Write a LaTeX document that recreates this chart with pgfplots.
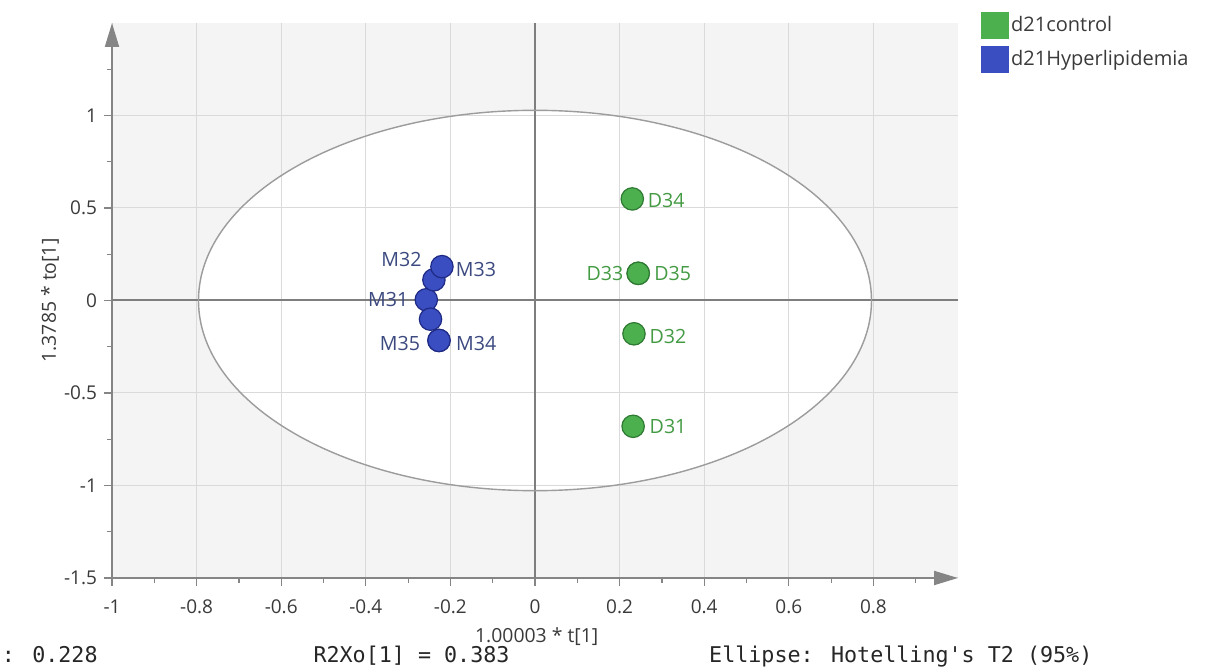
\documentclass[border=0pt]{standalone}
\usepackage{pgfplots}
\pgfplotsset{compat=1.18}
\usepackage{pgfplotstable}
\usepackage{fontspec}
\setmainfont{Open Sans}
\newfontfamily\monofont{DejaVu Sans Mono}
\usetikzlibrary{arrows.meta}

\definecolor{bggray}{HTML}{F4F4F4}
\definecolor{gridgray}{HTML}{DADADA}
\definecolor{axgray}{HTML}{858585}
\definecolor{zerogray}{HTML}{7E7E7E}
\definecolor{ellgray}{HTML}{9C9C9C}
\definecolor{gfill}{HTML}{4CB04F}
\definecolor{gedge}{HTML}{2E7A32}
\definecolor{bfill}{HTML}{3A4EC2}
\definecolor{bedge}{HTML}{1E2A84}
\definecolor{glabel}{HTML}{449B44}
\definecolor{blabel}{HTML}{3C4A80}
\definecolor{txt}{HTML}{3A3A3A}

% d21control: labels to the right of the point
\pgfplotstableread{
x y label dx dy
0.230 0.549 D34 7.5 -1.0
0.244 0.147 D35 7.8 0.0
0.234 -0.180 D32 7.5 -1.2
0.232 -0.680 D31 8.0 -0.3
}\controlR
% d21control: labels to the left of the point
\pgfplotstableread{
x y label dx dy
0.244 0.147 D33 -7.2 0.0
}\controlL

% d21Hyperlipidemia
\pgfplotstableread{
x y label dx dy
-0.257 0.004 M31 -8.7 0.0
-0.239 0.112 M32 -5.9 10.0
-0.227 -0.216 M35 -9.2 -1.7
}\hyperL
\pgfplotstableread{
x y
-0.247 -0.101
}\hyperN
\pgfplotstableread{
x y label dx dy
-0.220 0.183 M33 6.7 -1.5
-0.227 -0.216 M34 8.3 -1.7
}\hyperR

\pgfplotsset{
  pts/.style n args={2}{only marks, mark=*, mark size=5.6pt, forget plot,
    mark options={fill=#1, draw=#2, line width=0.6pt}},
  lbl/.style n args={2}{
    nodes near coords, point meta=explicit symbolic,
    visualization depends on={\thisrow{dx} \as \mydx},
    visualization depends on={\thisrow{dy} \as \mydy},
    every node near coord/.append style={anchor=#1, xshift=\mydx pt, yshift=\mydy pt, inner sep=0pt, font=\fontsize{9.8}{11}\selectfont, text=#2}},
}

\begin{document}
\begin{tikzpicture}
\begin{axis}[
  set layers,
  at={(0pt,0pt)}, anchor=south west,
  scale only axis, width=423pt, height=277.5pt,
  xmin=-1, xmax=1, ymin=-1.5, ymax=1.5,
  axis lines*=left,
  axis line style={axgray, line width=1pt},
  x axis line style={-{Triangle[length=12pt,width=7pt]}},
  y axis line style={-{Triangle[length=12pt,width=7pt]}},
  xtick={-1,-0.8,-0.6,-0.4,-0.2,0,0.2,0.4,0.6,0.8},
  minor xtick={-0.9,-0.7,-0.5,-0.3,-0.1,0.1,0.3,0.5,0.7,0.9},
  ytick={-1.5,-1,-0.5,0,0.5,1},
  minor ytick={-1.25,-0.75,-0.25,0.25,0.75,1.25},
  tick align=outside,
  major tick length=4pt, minor tick length=2.5pt,
  tick style={axgray, line width=0.6pt},
  grid=major,
  major grid style={gridgray, line width=0.5pt},
  /pgf/number format/assume math mode=true,
  ticklabel style={font=\fontsize{9.5}{11}\selectfont, text=txt},
  xticklabel style={yshift=-3.5pt},
  xlabel={1.00003 * t[1]},
  ylabel={1.3785 * to[1]},
  xlabel style={at={(axis description cs:0.502,-0.1063)}, anchor=center, font=\fontsize{9.7}{11}\selectfont, text=txt},
  ylabel style={at={(axis description cs:-0.0733,0.5)}, anchor=center, font=\fontsize{9.7}{11}\selectfont, text=txt},
  legend style={at={(axis description cs:1.0272,1.0205)}, anchor=north west, draw=none, fill=none, inner sep=0pt, row sep=3.5pt, font=\fontsize{10}{12}\selectfont, text=txt, nodes={inner sep=1pt}},
  legend cell align=left,
  clip=false,
]
\begin{pgfonlayer}{axis background}
  \fill[bggray] (rel axis cs:0,0) rectangle (rel axis cs:1,1);
  \fill[white] (axis cs:0,0) ellipse [x radius=0.7955, y radius=1.028];
\end{pgfonlayer}
\draw[zerogray, line width=1pt] (axis cs:-1,0) -- (axis cs:1,0);
\draw[zerogray, line width=1pt] (axis cs:0,-1.5) -- (axis cs:0,1.5);
\draw[ellgray, line width=0.7pt] (axis cs:0,0) ellipse [x radius=0.7955, y radius=1.028];

\addlegendimage{legend image code/.code={\fill[gfill] (0pt,-6.5pt) rectangle (13.5pt,6.5pt);}}
\addlegendentry{d21control}
\addlegendimage{legend image code/.code={\fill[bfill] (0pt,-6.5pt) rectangle (13.5pt,6.5pt);}}
\addlegendentry{d21Hyperlipidemia}

\addplot[pts={gfill}{gedge}, lbl={east}{glabel}] table[x=x, y=y, meta=label]{\controlL};
\addplot[pts={gfill}{gedge}, lbl={west}{glabel}] table[x=x, y=y, meta=label]{\controlR};
\addplot[pts={bfill}{bedge}, lbl={east}{blabel}] table[x=x, y=y, meta=label]{\hyperL};
\addplot[pts={bfill}{bedge}] table[x=x, y=y]{\hyperN};
\addplot[pts={bfill}{bedge}, lbl={west}{blabel}] table[x=x, y=y, meta=label]{\hyperR};
\end{axis}
\path[use as bounding box] (-56pt,-45.5pt) rectangle (546.5pt,289pt);
\node[anchor=base east, inner sep=0pt, font=\monofont\fontsize{10.85}{12}\selectfont, text=black!85] at (-7pt,-42.35pt) {: 0.228};
\node[anchor=base, inner sep=0pt, font=\monofont\fontsize{10.85}{12}\selectfont, text=black!85] at (149.75pt,-42.35pt) {R2Xo[1] = 0.383};
\node[anchor=base, inner sep=0pt, font=\monofont\fontsize{10.85}{12}\selectfont, text=black!85] at (394.4pt,-42.35pt) {Ellipse: Hotelling\textquotesingle s T2 (95\%)};
\end{tikzpicture}
\end{document}
